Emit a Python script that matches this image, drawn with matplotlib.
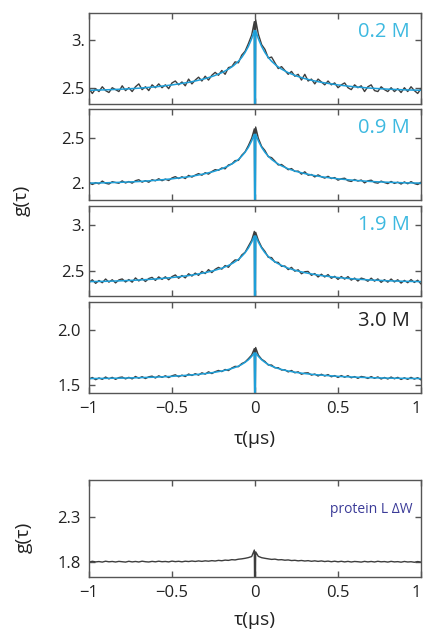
import numpy as np
import matplotlib
matplotlib.use("Agg")
import matplotlib.pyplot as plt
from matplotlib.ticker import FixedLocator, FixedFormatter

plt.rcParams['font.family'] = ['Open Sans', 'DejaVu Sans']

# delay grid of the measured traces (us): -1..-0.02, three points at zero, 0.02..1
tau_side = [round(0.02 * k, 2) for k in range(1, 51)]
tau_data = [-t for t in tau_side[::-1]] + [-0.004, 0.0, 0.004] + tau_side

# delay grid of the fits (one side, mirrored)
tau_fit_side = [0.004, 0.02, 0.04, 0.06, 0.08, 0.10, 0.13, 0.16, 0.20, 0.25,
                0.30, 0.35, 0.40, 0.50, 0.60, 0.70, 0.80, 0.90, 1.00]
tau_fit = [-t for t in tau_fit_side[::-1]] + [0.0] + tau_fit_side

labels = ["0.2 M", "0.9 M", "1.9 M", "3.0 M"]
label_colors = ["#3db9e0", "#3db9e0", "#3db9e0", "#222222"]

g_02 = [2.49, 2.44, 2.49, 2.46, 2.51, 2.47, 2.45, 2.50, 2.48, 2.46,
        2.52, 2.47, 2.50, 2.46, 2.51, 2.54, 2.48, 2.51, 2.47, 2.53,
        2.50, 2.54, 2.50, 2.53, 2.49, 2.55, 2.57, 2.53, 2.56, 2.52,
        2.59, 2.54, 2.58, 2.61, 2.57, 2.62, 2.58, 2.63, 2.66, 2.63,
        2.68, 2.64, 2.71, 2.72, 2.77, 2.76, 2.84, 2.88, 2.96, 3.05,
        3.19, 1.00, 3.21,
        3.06, 2.95, 2.90, 2.81, 2.82, 2.76, 2.70, 2.72, 2.68, 2.64,
        2.67, 2.62, 2.64, 2.58, 2.64, 2.57, 2.59, 2.54, 2.59, 2.56,
        2.53, 2.57, 2.53, 2.55, 2.50, 2.53, 2.55, 2.50, 2.48, 2.53,
        2.50, 2.52, 2.46, 2.51, 2.53, 2.47, 2.46, 2.51, 2.48, 2.46,
        2.50, 2.46, 2.49, 2.45, 2.50, 2.46, 2.51, 2.47, 2.44, 2.49]

g_09 = [2.007, 1.982, 2.003, 1.989, 2.020, 1.996, 1.987, 2.013, 2.004, 1.996,
        2.022, 1.999, 2.015, 1.997, 2.024, 2.035, 2.008, 2.025, 2.007, 2.035,
        2.023, 2.046, 2.024, 2.042, 2.026, 2.055, 2.069, 2.048, 2.068, 2.048,
        2.083, 2.064, 2.086, 2.103, 2.085, 2.113, 2.097, 2.126, 2.147, 2.139,
        2.166, 2.156, 2.199, 2.209, 2.247, 2.250, 2.306, 2.344, 2.414, 2.496,
        2.600, 1.000, 2.620,
        2.496, 2.404, 2.359, 2.291, 2.280, 2.242, 2.199, 2.204, 2.176, 2.146,
        2.159, 2.127, 2.131, 2.097, 2.123, 2.085, 2.093, 2.066, 2.089, 2.068,
        2.053, 2.073, 2.048, 2.059, 2.030, 2.046, 2.052, 2.024, 2.016, 2.038,
        2.020, 2.032, 2.000, 2.023, 2.030, 2.004, 1.997, 2.020, 2.004, 1.992,
        2.016, 1.994, 2.008, 1.987, 2.011, 1.990, 2.014, 1.993, 1.982, 2.007]

g_19 = [2.376, 2.406, 2.367, 2.398, 2.374, 2.414, 2.380, 2.406, 2.372, 2.404,
        2.415, 2.382, 2.408, 2.380, 2.426, 2.393, 2.420, 2.387, 2.419, 2.432,
        2.399, 2.437, 2.410, 2.438, 2.406, 2.440, 2.458, 2.422, 2.452, 2.426,
        2.471, 2.446, 2.478, 2.454, 2.496, 2.473, 2.516, 2.484, 2.519, 2.540,
        2.521, 2.560, 2.541, 2.589, 2.621, 2.616, 2.674, 2.703, 2.769, 2.834,
        2.930, 1.000, 2.920,
        2.834, 2.759, 2.713, 2.649, 2.646, 2.596, 2.594, 2.551, 2.555, 2.516,
        2.540, 2.499, 2.514, 2.471, 2.493, 2.496, 2.454, 2.473, 2.436, 2.466,
        2.436, 2.462, 2.422, 2.443, 2.410, 2.441, 2.413, 2.440, 2.402, 2.424,
        2.392, 2.424, 2.412, 2.390, 2.423, 2.391, 2.415, 2.378, 2.407, 2.380,
        2.414, 2.382, 2.406, 2.370, 2.399, 2.374, 2.408, 2.377, 2.401, 2.361]

g_30 = [1.555, 1.570, 1.550, 1.566, 1.553, 1.574, 1.557, 1.571, 1.553, 1.569,
        1.574, 1.557, 1.571, 1.557, 1.579, 1.563, 1.577, 1.560, 1.576, 1.582,
        1.565, 1.585, 1.571, 1.585, 1.569, 1.585, 1.594, 1.576, 1.591, 1.578,
        1.601, 1.588, 1.604, 1.591, 1.612, 1.600, 1.621, 1.605, 1.622, 1.633,
        1.623, 1.642, 1.632, 1.655, 1.670, 1.667, 1.695, 1.709, 1.739, 1.772,
        1.830, 1.000, 1.840,
        1.772, 1.734, 1.714, 1.682, 1.682, 1.657, 1.658, 1.637, 1.639, 1.620,
        1.633, 1.612, 1.621, 1.599, 1.610, 1.612, 1.591, 1.601, 1.583, 1.599,
        1.583, 1.596, 1.576, 1.587, 1.570, 1.587, 1.572, 1.586, 1.567, 1.578,
        1.562, 1.579, 1.573, 1.561, 1.578, 1.562, 1.575, 1.556, 1.570, 1.556,
        1.574, 1.558, 1.571, 1.552, 1.567, 1.553, 1.571, 1.555, 1.568, 1.548]

g_dw = [1.795, 1.805, 1.798, 1.802, 1.796, 1.806, 1.799, 1.803, 1.797, 1.804,
        1.800, 1.796, 1.805, 1.798, 1.803, 1.797, 1.806, 1.800, 1.797, 1.804,
        1.799, 1.806, 1.800, 1.803, 1.798, 1.807, 1.801, 1.805, 1.799, 1.806,
        1.802, 1.808, 1.803, 1.809, 1.804, 1.810, 1.806, 1.812, 1.808, 1.815,
        1.811, 1.818, 1.815, 1.823, 1.820, 1.828, 1.832, 1.838, 1.846, 1.858,
        1.930, 1.000, 1.910,
        1.860, 1.845, 1.838, 1.832, 1.826, 1.829, 1.821, 1.823, 1.817, 1.820,
        1.813, 1.816, 1.810, 1.814, 1.808, 1.812, 1.805, 1.810, 1.804, 1.809,
        1.802, 1.807, 1.800, 1.806, 1.799, 1.805, 1.798, 1.804, 1.797, 1.803,
        1.800, 1.796, 1.804, 1.798, 1.803, 1.797, 1.805, 1.799, 1.802, 1.796,
        1.804, 1.798, 1.801, 1.795, 1.803, 1.797, 1.800, 1.794, 1.802, 1.796]

# fitted curves, one side (tau_fit_side), value at tau = 0 separately
fit_02 = [3.096, 3.012, 2.930, 2.867, 2.816, 2.776, 2.729, 2.694, 2.657, 2.622,
          2.595, 2.574, 2.556, 2.529, 2.509, 2.495, 2.485, 2.478, 2.473]
fit_09 = [2.539, 2.466, 2.394, 2.339, 2.296, 2.260, 2.220, 2.189, 2.156, 2.126,
          2.103, 2.084, 2.068, 2.045, 2.028, 2.015, 2.007, 2.001, 1.997]
fit_19 = [2.881, 2.814, 2.749, 2.698, 2.659, 2.626, 2.589, 2.561, 2.531, 2.504,
          2.483, 2.466, 2.451, 2.430, 2.414, 2.403, 2.395, 2.389, 2.386]
fit_30 = [1.791, 1.760, 1.729, 1.706, 1.687, 1.672, 1.655, 1.642, 1.628, 1.615,
          1.605, 1.597, 1.591, 1.580, 1.573, 1.568, 1.564, 1.562, 1.560]
fit_zero = 1.0

ylims = [(2.33, 3.28), (1.81, 2.82), (2.23, 3.205), (1.43, 2.25)]
yticks = [[2.5, 3.0], [2.0, 2.5], [2.5, 3.0], [1.5, 2.0]]
yticklabels = [["2.5", "3."], ["2.", "2.5"], ["2.5", "3."], ["1.5", "2.0"]]

xticks = [-1, -0.5, 0, 0.5, 1]
xticklabels = ["\u22121", "\u22120.5", "0", "0.5", "1"]

gray = "#3d3d3d"
blue = "#1e9fd9"
spine = "#555555"

W, H = 423, 639
fig = plt.figure(figsize=(W / 100, H / 100), dpi=100)


def px_axes(x0, y0, x1, y1):
    return fig.add_axes([x0 / W, 1 - y1 / H, (x1 - x0) / W, (y1 - y0) / H])


def style(ax):
    for s in ax.spines.values():
        s.set_color(spine)
        s.set_linewidth(1.0)
    ax.tick_params(direction="in", length=4, width=1, color=spine,
                   top=True, right=True, labelsize=12, pad=3,
                   labelcolor="#222222")
    ax.set_xlim(-1, 1)
    ax.xaxis.set_major_locator(FixedLocator(xticks))


def bottom_labels(ax, pad):
    ax.xaxis.set_major_formatter(FixedFormatter(xticklabels))
    ax.tick_params(pad=6)
    ax.set_xlabel("\u03c4(\u03bcs)", fontsize=14, labelpad=pad,
                  color="#222222")
    fig.canvas.draw()
    ax.get_xticklabels()[-1].set_horizontalalignment("right")


panel_px = [(13, 104), (109, 200), (206, 296), (302, 393)]
datas = [g_02, g_09, g_19, g_30]
fits = [fit_02, fit_09, fit_19, fit_30]

for i in range(4):
    ax = px_axes(89, panel_px[i][0], 421, panel_px[i][1])
    ax.plot(tau_data, datas[i], color=gray, lw=1.0)
    side = fits[i]
    ax.plot(tau_fit, side[::-1] + [fit_zero] + side, color=blue, lw=1.1)
    style(ax)
    ax.set_ylim(*ylims[i])
    ax.yaxis.set_major_locator(FixedLocator(yticks[i]))
    ax.yaxis.set_major_formatter(FixedFormatter(yticklabels[i]))
    ax.text(0.967, 0.79, labels[i], transform=ax.transAxes, ha="right",
            va="center", fontsize=14.5, color=label_colors[i])
    if i < 3:
        ax.tick_params(labelbottom=False)
    else:
        bottom_labels(ax, 9)

fig.text(22 / W, 1 - 200 / H, "g(\u03c4)", rotation=90, ha="center",
         va="center", fontsize=14, color="#222222")

ax5 = px_axes(89, 480, 421, 577)
ax5.plot(tau_data, g_dw, color=gray, lw=1.0)
style(ax5)
ax5.set_ylim(1.63, 2.71)
ax5.yaxis.set_major_locator(FixedLocator([1.8, 2.3]))
ax5.yaxis.set_major_formatter(FixedFormatter(["1.8", "2.3"]))
bottom_labels(ax5, 7)
ax5.text(0.973, 0.70, "protein L \u0394W", transform=ax5.transAxes,
         ha="right", va="center", fontsize=10, color="#3b3b98")
fig.text(24 / W, 1 - 537 / H, "g(\u03c4)", rotation=90, ha="center",
         va="center", fontsize=14, color="#222222")

fig.savefig("out.png", dpi=100, facecolor="white")
